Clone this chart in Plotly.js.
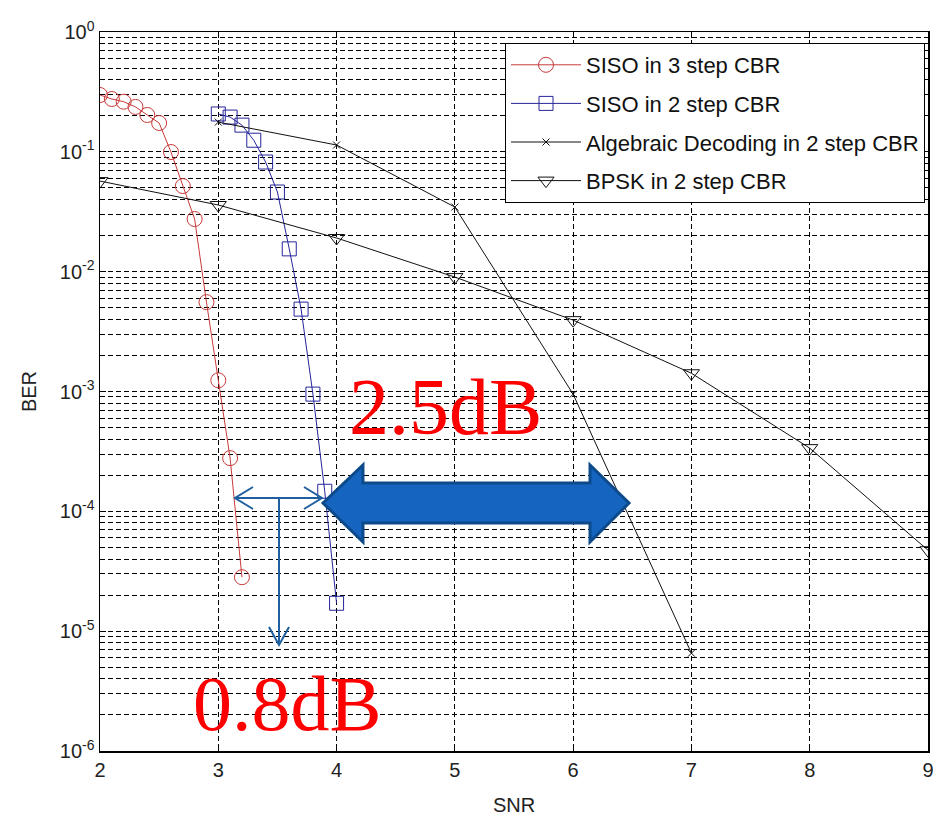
<!DOCTYPE html>
<html>
<head>
<meta charset="utf-8">
<script src="https://cdn.plot.ly/plotly-3.0.1.min.js"></script>
<style>html,body{margin:0;padding:0;background:#fff;}#chart{width:933px;height:819px;}</style>
</head>
<body>
<div id="chart"></div>
<script>
// ---- data ----
const sisoThreeSNR = [2.0, 2.1, 2.2, 2.3, 2.4, 2.5, 2.6, 2.7, 2.8, 2.9, 3.0, 3.1, 3.2];
const sisoThreeBER = [0.298, 0.276, 0.262, 0.237, 0.203, 0.174, 0.0996, 0.0518, 0.0275, 0.00557, 0.00124, 0.000278, 2.82e-5];

const sisoTwoSNR = [3.0, 3.1, 3.2, 3.3, 3.4, 3.5, 3.6, 3.7, 3.8, 3.9, 4.0];
const sisoTwoBER = [0.207, 0.195, 0.167, 0.125, 0.0822, 0.0462, 0.0155, 0.00487, 0.000951, 0.000147, 1.71e-5];

const algebraicSNR = [3, 4, 5, 6, 7];
const algebraicBER = [0.177, 0.114, 0.0346, 0.00095, 6.55e-6];

const bpskSNR = [2, 3, 4, 5, 6, 7, 8, 9];
const bpskBER = [0.0570, 0.0360, 0.0191, 0.00901, 0.00394, 0.00142, 0.000337, 4.74e-5];

const seriesNames = ["SISO in 3 step CBR", "SISO in 2 step CBR", "Algebraic Decoding in 2 step CBR", "BPSK in 2 step CBR"];

const yTickVals = [1e-6, 1e-5, 1e-4, 1e-3, 1e-2, 1e-1, 1];
const yTickText = ["10<sup>-6</sup>", "10<sup>-5</sup>", "10<sup>-4</sup>", "10<sup>-3</sup>", "10<sup>-2</sup>", "10<sup>-1</sup>", "10<sup>0</sup>"];
const xTickVals = [2, 3, 4, 5, 6, 7, 8, 9];

// minor grid positions (2..9 within each decade)
const yMinorVals = [];
for (let e = -6; e < 0; e++) for (let m = 2; m <= 9; m++) yMinorVals.push(m * Math.pow(10, e));

// ---- layout geometry helpers (pixels -> paper) ----
const L = 100, T = 32, W = 828, H = 719;
const px = x => (x - L) / W;
const py = y => 1 - (y - T) / H;
const pathOf = pts => pts.map((p, i) => (i ? "L" : "M") + px(p[0]).toFixed(4) + "," + py(p[1]).toFixed(4)).join(" ");

const red = "#c83a3a", blue = "#25259a", black = "#111111";

const traces = [
  {x: sisoThreeSNR, y: sisoThreeBER, name: seriesNames[0], mode: "lines+markers", legendgroup: "a",
   line: {color: red, width: 1}, marker: {symbol: "circle-open", size: 15, color: red, line: {width: 1, color: red}}},
  {x: sisoTwoSNR, y: sisoTwoBER, name: seriesNames[1], mode: "lines+markers", legendgroup: "b",
   line: {color: blue, width: 1}, marker: {symbol: "square-open", size: 14, color: blue, line: {width: 1, color: blue}}},
  {x: algebraicSNR, y: algebraicBER, name: seriesNames[2], mode: "lines+markers", legendgroup: "c",
   line: {color: black, width: 1}, marker: {symbol: "x-thin-open", size: 7, color: black, line: {width: 1, color: black}}},
  {x: bpskSNR, y: bpskBER, name: seriesNames[3], mode: "lines+markers", legendgroup: "d",
   line: {color: black, width: 1}, marker: {symbol: "triangle-down-open", size: 14, color: black, line: {width: 1, color: black}}}
];

const arrowBlue = "#1565c0", arrowEdge = "#0d4a8a", thinBlue = "#1f5f9f";

const shapes = [
  {type: "path", xref: "paper", yref: "paper", fillcolor: arrowBlue, line: {color: arrowEdge, width: 3},
   path: pathOf([[323,503],[363,465],[363,483],[590,483],[590,465],[629,503],[590,542],[590,523],[363,523],[363,542]]) + " Z"},
  {type: "path", xref: "paper", yref: "paper", line: {color: thinBlue, width: 2},
   path: pathOf([[235,498],[322,498]])},
  {type: "path", xref: "paper", yref: "paper", line: {color: thinBlue, width: 2},
   path: pathOf([[253,487],[235,498],[253,509]])},
  {type: "path", xref: "paper", yref: "paper", line: {color: thinBlue, width: 2},
   path: pathOf([[304,487],[322,498],[304,509]])},
  {type: "path", xref: "paper", yref: "paper", line: {color: thinBlue, width: 2},
   path: pathOf([[279,498],[279,645]])},
  {type: "path", xref: "paper", yref: "paper", line: {color: thinBlue, width: 2},
   path: pathOf([[269,627],[279,645],[289,627]])}
];

const annotations = [
  {xref: "paper", yref: "paper", x: px(445), y: py(407), text: "2.5dB", showarrow: false,
   xanchor: "center", yanchor: "middle", font: {family: "Liberation Serif, serif", size: 80, color: "#ff0000"}},
  {xref: "paper", yref: "paper", x: px(287), y: py(703), text: "0.8dB", showarrow: false,
   xanchor: "center", yanchor: "middle", font: {family: "Liberation Serif, serif", size: 78, color: "#ff0000"}}
];

const gridDash = "5px,3px";

const layout = {
  width: 933, height: 819,
  margin: {l: L, r: 933 - L - W, t: T, b: 819 - T - H},
  paper_bgcolor: "#ffffff", plot_bgcolor: "#ffffff",
  font: {family: "Liberation Sans, Arial, sans-serif", size: 20, color: "#222"},
  showlegend: true,
  legend: {x: px(925), y: py(43), xanchor: "right", yanchor: "top", bgcolor: "#ffffff", itemwidth: 70,
           bordercolor: "#000", borderwidth: 1, font: {size: 22, color: "#111"}, tracegroupgap: 7, traceorder: "grouped"},
  xaxis: {type: "linear", range: [2, 9], tickvals: xTickVals, ticks: "inside", ticklen: 6, tickcolor: "#000",
          showline: true, linecolor: "#000", linewidth: 1.5, mirror: "ticks", ticklabeloverflow: "allow",
          showgrid: true, gridcolor: "#000", griddash: gridDash, gridwidth: 1, zeroline: false,
          title: {text: "SNR", font: {size: 20}, standoff: 18}, tickfont: {size: 20}},
  yaxis: {type: "log", range: [-6, 0], tickvals: yTickVals, ticktext: yTickText, ticks: "inside", ticklen: 6, tickcolor: "#000",
          showline: true, linecolor: "#000", linewidth: 1.5, mirror: "ticks",
          showgrid: true, gridcolor: "#000", griddash: gridDash, gridwidth: 1, zeroline: false,
          minor: {tickvals: yMinorVals, showgrid: true, gridcolor: "#000", griddash: gridDash, gridwidth: 1, ticks: "inside", ticklen: 3, tickcolor: "#000"},
          title: {text: "BER", font: {size: 20}, standoff: 18}, tickfont: {size: 20}},
  shapes: shapes,
  annotations: annotations
};

Plotly.newPlot("chart", traces, layout, {displayModeBar: false, staticPlot: true});
</script>
</body>
</html>
